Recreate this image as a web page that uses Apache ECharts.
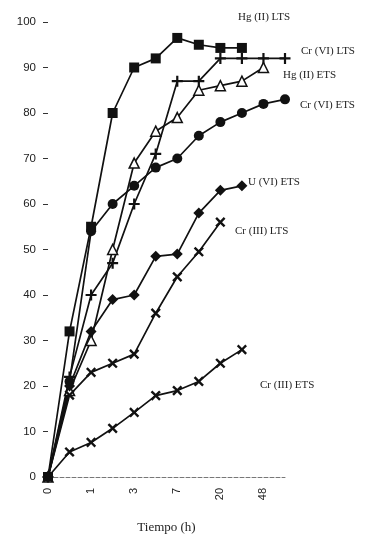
<!DOCTYPE html>
<html><head><meta charset="utf-8">
<script src="https://cdn.jsdelivr.net/npm/echarts@6/dist/echarts.min.js"></script>
<style>html,body{margin:0;padding:0;background:#fff}#c{width:381px;height:539px}</style>
</head><body><div id="c"></div>
<script>
const categories = ["0","0.5","1","2","3","5","7","10","20","24","48","72"];
const shownTicks = ["0","1","3","7","20","48"];
const yTicks = [0,10,20,30,40,50,60,70,80,90,100];
const hgLTS   = [0,32,55,80,90,92,96.5,95,94.3,94.3];
const crVILTS = [0,22,40,47,60,71,87,87,92,92,92,92];
const hgETS   = [0,19,30,50,69,76,79,85,86,87,90];
const crVIETS = [0,21,54,60,64,68,70,75,78,80,82,83];
const uVIETS  = [0,20,32,39,40,48.5,49,58,63,64];
const crIIILTS= [0,18,23,25,27,36,44,49.5,56];
const crIIIETS= [0,5.5,7.6,10.7,14.2,17.9,19,21,25,28];

const plus = 'path://M4,0h2v4h4v2h-4v4h-2v-4h-4v-2h4z';
const chart = echarts.init(document.getElementById('c'));
function s(name, data, symbol, size, extra) {
  return Object.assign({
    name, type: 'line', data, symbol, symbolSize: size,
    lineStyle: {color: '#111', width: 1.7},
    itemStyle: {color: '#111'},
    animation: false
  }, extra || {});
}
chart.setOption({
  animation: false,
  grid: {left: 48, right: 96, top: 22, bottom: 59},
  xAxis: {
    type: 'category', data: categories, boundaryGap: false,
    axisLine: {lineStyle: {color: '#777', type: 'dashed', width: 1}},
    axisTick: {show: false},
    axisLabel: {
      rotate: 90, interval: 0, margin: 11, color: '#222', fontSize: 11, fontFamily: 'Arial',
      formatter: v => shownTicks.indexOf(v) >= 0 ? v : ''
    },
    name: 'Tiempo (h)', nameLocation: 'middle', nameGap: 44,
    nameTextStyle: {fontFamily: 'Liberation Serif', fontSize: 13, color: '#222'}
  },
  yAxis: {
    type: 'value', min: 0, max: 100, interval: 10,
    axisLine: {show: false},
    axisTick: {show: true, length: 5, lineStyle: {color: '#333'}},
    splitLine: {show: false},
    axisLabel: {color: '#222', fontSize: 11.5, fontFamily: 'Arial', margin: 12}
  },
  series: [
    s('Hg (II) LTS', hgLTS, 'rect', 10),
    s('Cr (VI) LTS', crVILTS, plus, 11),
    s('Hg (II) ETS', hgETS, 'triangle', 10, {itemStyle: {color: '#fff', borderColor: '#111', borderWidth: 1.5}}),
    s('Cr (VI) ETS', crVIETS, 'circle', 10),
    s('U (VI) ETS', uVIETS, 'diamond', 11),
    s('Cr (III) LTS', crIIILTS, plus, 12, {symbolRotate: 45}),
    s('Cr (III) ETS', crIIIETS, plus, 12, {symbolRotate: 45})
  ],
  graphic: [
    ['Hg (II) LTS', 238, 12],
    ['Cr (VI) LTS', 301, 46],
    ['Hg (II) ETS', 283, 70],
    ['Cr (VI) ETS', 300, 100],
    ['U (VI) ETS', 248, 177],
    ['Cr (III) LTS', 235, 226],
    ['Cr (III) ETS', 260, 380]
  ].map(([t, x, y]) => ({
    type: 'text', left: x, top: y,
    style: {text: t, font: '11px "Liberation Serif"', fill: '#222'}
  }))
});
</script></body></html>
